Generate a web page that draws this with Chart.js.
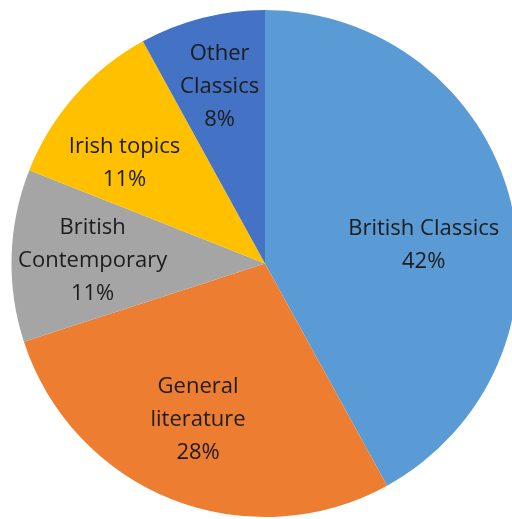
<!DOCTYPE html>
<html>
<head>
<meta charset="utf-8">
<script src="https://cdn.jsdelivr.net/npm/chart.js@4/dist/chart.umd.min.js"></script>
<style>
  html, body { margin: 0; padding: 0; background: #fff; overflow: hidden; width: 512px; height: 519px; }
  #wrap { position: absolute; left: 0; top: 0; width: 530px; height: 527px; }
</style>
</head>
<body>
<div id="wrap"><canvas id="chart"></canvas></div>
<script>
// data
const categories = ['British Classics', 'General literature', 'British Contemporary', 'Irish topics', 'Other Classics'];
const shares = [42, 28, 11, 11, 8];
const labelLines = [['British Classics'], ['General', 'literature'], ['British', 'Contemporary'], ['Irish topics'], ['Other', 'Classics']];
const colors = ['#5B9BD5', '#ED7D31', '#A5A5A5', '#FFC000', '#4472C4'];

// label nudges (radius fraction, angle shift in degrees)
const labelAdjust = [[0.63, 8], [0.67, 1.6], [0.68, -1], [0.68, -6], [0.72, 0]];

const sliceLabels = {
  id: 'sliceLabels',
  afterDatasetsDraw(chart) {
    const c = chart.ctx;
    const meta = chart.getDatasetMeta(0);
    c.save();
    c.font = '22px "Open Sans", sans-serif';
    c.fillStyle = '#1c1c1c';
    c.textAlign = 'center';
    c.textBaseline = 'middle';
    meta.data.forEach((arc, i) => {
      const p = arc.getProps(['x', 'y', 'startAngle', 'endAngle', 'outerRadius'], true);
      const mid = (p.startAngle + p.endAngle) / 2 + labelAdjust[i][1] * Math.PI / 180;
      const r = p.outerRadius * labelAdjust[i][0];
      const x = p.x + Math.cos(mid) * r;
      const y = p.y + Math.sin(mid) * r;
      const lines = labelLines[i].concat([shares[i] + '%']);
      const lh = 33;
      lines.forEach((t, k) => {
        c.fillText(t, x, y + (k - (lines.length - 1) / 2) * lh);
      });
    });
    c.restore();
  }
};

new Chart(document.getElementById('chart'), {
  type: 'pie',
  data: {
    labels: categories,
    datasets: [{
      data: shares,
      backgroundColor: colors,
      borderWidth: 0
    }]
  },
  options: {
    responsive: true,
    maintainAspectRatio: false,
    animation: false,
    layout: { padding: 10 },
    plugins: {
      legend: { display: false },
      tooltip: { enabled: false }
    }
  },
  plugins: [sliceLabels]
});
</script>
</body>
</html>
